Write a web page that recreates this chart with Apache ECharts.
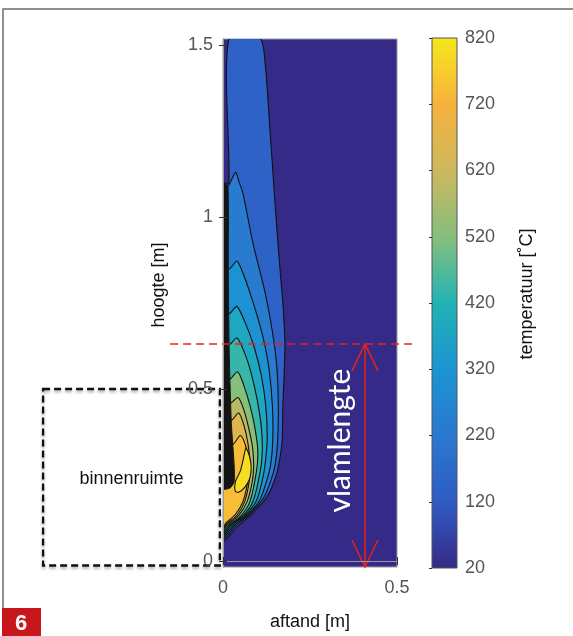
<!DOCTYPE html>
<html><head><meta charset="utf-8">
<script src="https://cdn.jsdelivr.net/npm/echarts@6/dist/echarts.min.js"></script>
<style>html,body{margin:0;padding:0;background:#fff}#c{width:573px;height:636px}</style>
</head><body><div id="c"></div>
<script>
// ---- axes / ticks ----
const xTicks = [0, 0.5];
const yTicks = [0, 0.5, 1, 1.5];
const xRange = [0, 0.5];
const yRange = [-0.0174, 1.5174];
const tempMin = 20, tempMax = 820, tempStep = 100;

// ---- colormap as printed on the colorbar (value -> colour) ----
const cmapValues = [20, 120, 220, 320, 420, 520, 620, 720, 770, 820];
const cmapColors = ['#352a87', '#2f5cc4', '#2a78d0', '#1b95d3', '#22b2b4', '#86bf7c', '#cdb85c', '#f7b23e', '#f8cc2e', '#f4e81a'];

// ---- contour bands: temperature of each filled band (outer -> inner) ----
const levelTemps = [140, 230, 310, 380, 440, 520, 590, 660, 740, 800];

// contour outlines, [x (m), y (m)]
const contour1 = [[0.017,1.52],[0.106,1.52],[0.121,1.448],[0.135,1.253],[0.155,0.962],[0.164,0.846],[0.172,0.75],[0.178,0.634],[0.176,0.55],[0.172,0.45],[0.17,0.352],[0.162,0.29],[0.15,0.24],[0.126,0.186],[0.086,0.14],[0.04,0.099],[0,0.061],[0,1.09],[0.017,1.1]];
const contour2 = [[0.015,1.09],[0.03,1.12],[0.037,1.13],[0.045,1.105],[0.057,1.07],[0.086,0.924],[0.121,0.78],[0.143,0.66],[0.155,0.56],[0.159,0.45],[0.157,0.35],[0.15,0.28],[0.138,0.235],[0.116,0.182],[0.078,0.138],[0.034,0.1],[0,0.066],[0,1.08]];
const contour3 = [[0.02,0.85],[0.04,0.872],[0.06,0.83],[0.09,0.74],[0.115,0.65],[0.132,0.56],[0.142,0.45],[0.143,0.35],[0.137,0.28],[0.126,0.235],[0.106,0.178],[0.071,0.135],[0.029,0.101],[0,0.07],[0,0.84]];
const contour4 = [[0.02,0.72],[0.04,0.74],[0.065,0.69],[0.09,0.62],[0.11,0.54],[0.123,0.45],[0.127,0.36],[0.122,0.29],[0.113,0.235],[0.096,0.175],[0.064,0.133],[0.024,0.102],[0,0.074],[0,0.71]];
const contour5 = [[0.02,0.63],[0.04,0.648],[0.06,0.61],[0.08,0.55],[0.098,0.47],[0.11,0.39],[0.113,0.32],[0.107,0.26],[0.086,0.173],[0.057,0.131],[0.02,0.103],[0,0.078],[0,0.62]];
const contour6 = [[0.022,0.53],[0.042,0.55],[0.06,0.51],[0.078,0.45],[0.092,0.385],[0.1,0.32],[0.096,0.26],[0.077,0.172],[0.05,0.13],[0.016,0.104],[0,0.082],[0,0.52]];
const contour7 = [[0.024,0.46],[0.043,0.475],[0.058,0.445],[0.073,0.39],[0.085,0.33],[0.088,0.27],[0.083,0.225],[0.069,0.172],[0.044,0.131],[0.012,0.106],[0,0.087],[0,0.45]];
const contour8 = [[0.026,0.41],[0.045,0.43],[0.06,0.395],[0.072,0.34],[0.078,0.28],[0.075,0.23],[0.062,0.172],[0.04,0.133],[0.01,0.108],[0,0.092],[0,0.4]];
const contour9 = [[0.03,0.34],[0.05,0.365],[0.065,0.335],[0.073,0.29],[0.072,0.24],[0.058,0.175],[0.036,0.136],[0.008,0.11],[0,0.097],[0,0.33]];
const contour10 = [[0.066,0.328],[0.076,0.305],[0.081,0.273],[0.077,0.24],[0.063,0.215],[0.045,0.2],[0.035,0.203],[0.036,0.232],[0.05,0.262],[0.058,0.295]];
// bunched contour lines along the wall
const wallLines = [[0,0.21],[0.02,0.212],[0.032,0.23],[0.032,0.28],[0.024,0.4],[0.018,0.6],[0.015,0.85],[0.014,1.09],[0,1.1]];

// ---- annotations ----
const flameLength = 0.631;
const arrowX = 0.408;
const redLineX = [-0.152, 0.543];
const roomX = [-0.517, -0.009];
const roomY = [-0.013, 0.5];

const contours = [contour1, contour2, contour3, contour4, contour5, contour6, contour7, contour8, contour9, contour10];

function hexToRgb(h){ return [parseInt(h.slice(1,3),16), parseInt(h.slice(3,5),16), parseInt(h.slice(5,7),16)]; }
function tempColor(t){
  if (t <= cmapValues[0]) return cmapColors[0];
  for (let i = 1; i < cmapValues.length; i++) {
    if (t <= cmapValues[i]) {
      const f = (t - cmapValues[i-1]) / (cmapValues[i] - cmapValues[i-1]);
      const a = hexToRgb(cmapColors[i-1]), b = hexToRgb(cmapColors[i]);
      return 'rgb(' + a.map((v,k) => Math.round(v + (b[k]-v)*f)).join(',') + ')';
    }
  }
  return cmapColors[cmapColors.length-1];
}

const FONT = '"Liberation Sans", Arial, sans-serif';
const chart = echarts.init(document.getElementById('c'), null, {renderer: 'canvas'});

const fmt = v => String(Math.round(v*100)/100);

const option = {
  animation: false,
  backgroundColor: '#fff',
  textStyle: {fontFamily: FONT},
  grid: [
    {left: 223, top: 39, width: 174, height: 528, show: true, backgroundColor: tempColor(tempMin), borderColor: '#9a9a9a', borderWidth: 1},
    {left: 432, top: 38, width: 25, height: 530}
  ],
  xAxis: [
    {type: 'value', gridIndex: 0, min: xRange[0], max: xRange[1], position: 'bottom', z: 10,
     axisLine: {show: true, lineStyle: {color: '#9a9a9a', width: 1}},
     axisTick: {show: true, inside: true, length: 4, customValues: xTicks, lineStyle: {color: '#333'}},
     axisLabel: {show: true, customValues: xTicks, formatter: fmt, color: '#555', fontSize: 18, margin: 12, fontFamily: FONT},
     splitLine: {show: false}},
    {type: 'value', gridIndex: 0, min: xRange[0], max: xRange[1], position: 'top', z: 10,
     axisLine: {show: true, lineStyle: {color: '#9a9a9a', width: 1}},
     axisTick: {show: true, inside: true, length: 4, customValues: xTicks, lineStyle: {color: '#333'}},
     axisLabel: {show: false}, splitLine: {show: false}},
    {type: 'value', gridIndex: 1, min: 0, max: 1, show: false}
  ],
  yAxis: [
    {type: 'value', gridIndex: 0, min: yRange[0], max: yRange[1], position: 'left', z: 10,
     axisLine: {show: true, lineStyle: {color: '#9a9a9a', width: 1}},
     axisTick: {show: true, inside: true, length: 4, customValues: yTicks, lineStyle: {color: '#333'}},
     axisLabel: {show: true, customValues: yTicks, formatter: fmt, color: '#555', fontSize: 18, margin: 10, fontFamily: FONT},
     splitLine: {show: false}},
    {type: 'value', gridIndex: 0, min: yRange[0], max: yRange[1], position: 'right', z: 10,
     axisLine: {show: true, lineStyle: {color: '#9a9a9a', width: 1}},
     axisTick: {show: true, inside: true, length: 4, customValues: yTicks, lineStyle: {color: '#333'}},
     axisLabel: {show: false}, splitLine: {show: false}},
    {type: 'value', gridIndex: 1, min: tempMin, max: tempMax, interval: tempStep, position: 'right', z: 10,
     axisLine: {show: false},
     axisTick: {show: true, inside: true, length: 3, lineStyle: {color: '#333'}},
     axisLabel: {show: true, color: '#555', fontSize: 18, margin: 8, fontFamily: FONT},
     splitLine: {show: false}}
  ],
  series: [
    {
      type: 'custom', name: 'contours', xAxisIndex: 0, yAxisIndex: 0, clip: true, z: 2,
      data: contours.map((c, i) => [i, levelTemps[i]]),
      renderItem: function(params, api){
        const i = api.value(0);
        const pts = contours[i].map(p => api.coord(p));
        return {type: 'polygon', shape: {points: pts, smooth: 0.25},
                style: {fill: tempColor(api.value(1)), stroke: '#111', lineWidth: 1.1}};
      }
    },
    {
      type: 'custom', name: 'wall', xAxisIndex: 0, yAxisIndex: 0, clip: true, z: 3,
      data: [[0]],
      renderItem: function(params, api){
        const pts = wallLines.map(p => api.coord(p));
        return {type: 'polygon', shape: {points: pts, smooth: 0.2}, style: {fill: '#141414', stroke: '#141414', lineWidth: 1}};
      }
    },
    {
      type: 'custom', name: 'colorbar', xAxisIndex: 2, yAxisIndex: 2, clip: false, z: 2,
      data: [[0, tempMin, tempMax]],
      renderItem: function(params, api){
        const p0 = api.coord([0, api.value(2)]);
        const p1 = api.coord([1, api.value(1)]);
        const stops = cmapValues.map((v, k) => ({offset: (v - tempMin)/(tempMax - tempMin), color: cmapColors[k]}));
        return {type: 'rect', shape: {x: p0[0], y: p0[1], width: p1[0]-p0[0], height: p1[1]-p0[1]},
                style: {fill: {type: 'linear', x: 0, y: 1, x2: 0, y2: 0, colorStops: stops}, stroke: '#555', lineWidth: 1}};
      }
    },
    {
      type: 'custom', name: 'annotations', xAxisIndex: 0, yAxisIndex: 0, clip: false, z: 5,
      data: [[0]],
      renderItem: function(params, api){
        const rl = api.coord([redLineX[0], flameLength]);
        const rr = api.coord([redLineX[1], flameLength]);
        const at = api.coord([arrowX, flameLength]);
        const ab = api.coord([arrowX, yRange[0]]);
        const b0 = api.coord([roomX[0], roomY[1]]);
        const b1 = api.coord([roomX[1], roomY[0]]);
        const red = '#e8231c';
        const hw = 13, hl = 27;
        const txt = api.coord([(arrowX + 0.264)/2, 0.35]);
        const room = api.coord([(roomX[0]+roomX[1])/2, 0.238]);
        return {type: 'group', children: [
          {type: 'rect', shape: {x: b0[0], y: b0[1], width: b1[0]-b0[0], height: b1[1]-b0[1]},
           style: {fill: null, stroke: '#111', lineWidth: 2.3, lineDash: [7, 4], shadowBlur: 3, shadowColor: 'rgba(0,0,0,0.35)', shadowOffsetY: 2}},
          {type: 'text', x: room[0], y: room[1], style: {text: 'binnenruimte', fill: '#111', font: '18px ' + FONT, align: 'center', verticalAlign: 'middle'}},
          {type: 'line', shape: {x1: rl[0], y1: rl[1], x2: rr[0], y2: rr[1]}, style: {stroke: red, lineWidth: 1.6, lineDash: [8, 5]}},
          {type: 'line', shape: {x1: at[0], y1: at[1], x2: ab[0], y2: ab[1]}, style: {stroke: red, lineWidth: 1.5}},
          {type: 'polyline', shape: {points: [[at[0]-hw, at[1]+hl], at, [at[0]+hw, at[1]+hl]]}, style: {stroke: red, lineWidth: 1.5, fill: null}},
          {type: 'polyline', shape: {points: [[ab[0]-hw, ab[1]-hl], ab, [ab[0]+hw, ab[1]-hl]]}, style: {stroke: red, lineWidth: 1.5, fill: null}},
          {type: 'text', x: txt[0], y: txt[1], rotation: Math.PI/2,
           style: {text: 'vlamlengte', fill: '#fff', font: '30px Lato, "Open Sans", sans-serif', align: 'center', verticalAlign: 'middle'}}
        ]};
      }
    }
  ],
  graphic: [
    {type: 'polyline', shape: {points: [[3, 608], [3, 9], [573, 9]]}, style: {stroke: '#6e6e6e', lineWidth: 1.5, fill: null}, silent: true},
    {type: 'rect', shape: {x: 2, y: 608, width: 39, height: 28}, style: {fill: '#c8161d'}},
    {type: 'text', x: 21, y: 624, style: {text: '6', fill: '#fff', font: 'bold 22px ' + FONT, align: 'center', verticalAlign: 'middle'}},
    {type: 'text', x: 159, y: 285, rotation: Math.PI/2, style: {text: 'hoogte [m]', fill: '#111', font: '18px ' + FONT, align: 'center', verticalAlign: 'middle'}},
    {type: 'text', x: 310, y: 622, style: {text: 'aftand [m]', fill: '#111', font: '18px ' + FONT, align: 'center', verticalAlign: 'middle'}},
    {type: 'text', x: 527, y: 294, rotation: Math.PI/2, style: {text: 'temperatuur [˚C]', fill: '#111', font: '18px ' + FONT, align: 'center', verticalAlign: 'middle'}}
  ]
};
chart.setOption(option);
</script>
</body></html>
